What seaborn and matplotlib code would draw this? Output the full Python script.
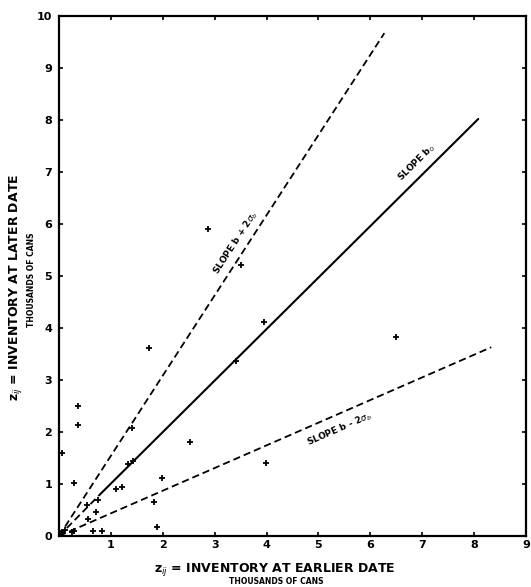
import matplotlib
matplotlib.use("Agg")
import matplotlib.pyplot as plt
import seaborn as sns
import pandas as pd

# ---- data (thousands of cans) ----
x_earlier = [0.02, 0.05, 0.12, 0.26, 0.28, 0.05, 0.29, 0.36, 0.36, 0.54, 0.56,
             0.65, 0.72, 0.76, 0.82, 1.10, 1.22, 1.33, 1.41, 1.43, 1.74,
             1.83, 1.88, 1.99, 2.53, 2.87, 3.42, 3.51, 3.96, 3.99, 6.49]
y_later = [0.05, 0.08, 0.12, 0.08, 0.10, 1.60, 1.01, 2.13, 2.50, 0.60, 0.32,
           0.09, 0.46, 0.69, 0.09, 0.90, 0.94, 1.38, 2.07, 1.45, 3.62,
           0.66, 0.17, 1.12, 1.81, 5.90, 3.37, 5.21, 4.11, 1.40, 3.82]

upper_x = [0.0, 6.27]
upper_y = [0.0, 9.67]
mid_dash_x = [0.0, 0.79]
mid_dash_y = [0.0, 0.80]
mid_solid_x = [0.79, 8.08]
mid_solid_y = [0.80, 8.02]
lower_x = [0.0, 8.33]
lower_y = [0.0, 3.63]

x_ticks = [1, 2, 3, 4, 5, 6, 7, 8, 9]
y_ticks = [0, 1, 2, 3, 4, 5, 6, 7, 8, 9, 10]

sns.set_theme(style="ticks")
plt.rcParams['font.family'] = ['DejaVu Sans']
plt.rcParams['text.color'] = 'black'
plt.rcParams['xtick.color'] = 'black'
plt.rcParams['ytick.color'] = 'black'
plt.rcParams['xtick.labelcolor'] = 'black'
plt.rcParams['ytick.labelcolor'] = 'black'

fig = plt.figure(figsize=(5.31, 5.87), dpi=100)
ax = fig.add_axes([59/531, 51/587, 467/531, 520/587])

df = pd.DataFrame({"x": x_earlier, "y": y_later})
sns.scatterplot(data=df, x="x", y="y", ax=ax, marker="+", s=18,
                color="black", linewidth=1.3, zorder=3)

dash = (4, 2.2)
sns.lineplot(x=upper_x, y=upper_y, ax=ax, color="black", lw=1.3,
             linestyle=(0, dash))
sns.lineplot(x=lower_x, y=lower_y, ax=ax, color="black", lw=1.3,
             linestyle=(0, dash))
sns.lineplot(x=mid_dash_x, y=mid_dash_y, ax=ax, color="black", lw=1.3,
             linestyle=(0, dash))
sns.lineplot(x=mid_solid_x, y=mid_solid_y, ax=ax, color="black", lw=1.5)

ax.set_xlim(0, 9)
ax.set_ylim(0, 10)
ax.set_xticks(x_ticks)
ax.set_yticks(y_ticks)
ax.set_xticklabels([str(t) for t in x_ticks], fontsize=8, fontweight="bold",
                   color="black")
ax.set_yticklabels([str(t) for t in y_ticks], fontsize=8, fontweight="bold",
                   color="black")
ax.tick_params(axis="both", direction="in", length=3, width=1.2,
               top=True, right=True, colors="black")
ax.tick_params(axis="x", pad=3)
ax.tick_params(axis="y", pad=5)
for sp in ax.spines.values():
    sp.set_visible(True)
    sp.set_linewidth(1.6)
    sp.set_color("black")
ax.set_xlabel("")
ax.set_ylabel("")

# slope annotations
ax.text(3.40, 5.65, r"SLOPE b + 2$\sigma_b$", rotation=57, fontsize=6.5,
        fontweight="bold", ha="center", va="center", color="black")
ax.text(6.90, 7.18, r"SLOPE b$_0$", rotation=44.7, fontsize=6.5,
        fontweight="bold", ha="center", va="center", color="black")
ax.text(5.40, 2.05, r"SLOPE b - 2$\sigma_b$", rotation=23.7, fontsize=6.5,
        fontweight="bold", ha="center", va="center", color="black")

# axis labels
fig.text(275/531, 1 - 569/587, r"z$_{ij}$ = INVENTORY AT EARLIER DATE",
         fontsize=9, fontweight="bold", ha="center", va="center", color="black")
fig.text(276/531, 1 - 582/587, "THOUSANDS OF CANS",
         fontsize=5.5, fontweight="bold", ha="center", va="center", color="black")
fig.text(16/531, 1 - 287/587, r"z$_{ij}$ = INVENTORY AT LATER DATE",
         fontsize=9, fontweight="bold", ha="center", va="center", rotation=90,
         color="black")
fig.text(32/531, 1 - 280/587, "THOUSANDS OF CANS",
         fontsize=5.5, fontweight="bold", ha="center", va="center", rotation=90,
         color="black")

fig.savefig("out.png", dpi=100)
